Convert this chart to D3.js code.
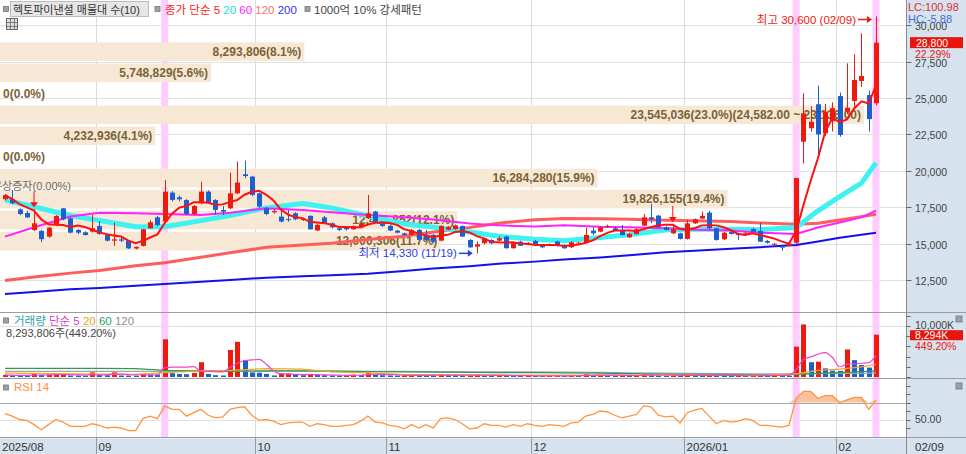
<!DOCTYPE html>
<html>
<head>
<meta charset="utf-8">
<script src="https://cdn.jsdelivr.net/npm/d3@7/dist/d3.min.js"></script>
<style>
  body { margin:0; background:#fff; }
  svg { display:block; font-family:"Liberation Sans","Noto Sans CJK KR",sans-serif; }
</style>
</head>
<body>
<div id="chart-area"></div>
<script>
// daily candles, 2025/08/12 ~ 2026/02/09
var dates = [
  "2025/08/12","2025/08/13","2025/08/14","2025/08/18","2025/08/19","2025/08/20","2025/08/21","2025/08/22","2025/08/25","2025/08/26",
  "2025/08/27","2025/08/28","2025/08/29","2025/09/01","2025/09/02","2025/09/03","2025/09/04","2025/09/05","2025/09/08","2025/09/09",
  "2025/09/10","2025/09/11","2025/09/12","2025/09/15","2025/09/16","2025/09/17","2025/09/18","2025/09/19","2025/09/22","2025/09/23",
  "2025/09/24","2025/09/25","2025/09/26","2025/09/29","2025/09/30","2025/10/01","2025/10/02","2025/10/10","2025/10/13","2025/10/14",
  "2025/10/15","2025/10/16","2025/10/17","2025/10/20","2025/10/21","2025/10/22","2025/10/23","2025/10/24","2025/10/27","2025/10/28",
  "2025/10/29","2025/10/30","2025/10/31","2025/11/03","2025/11/04","2025/11/05","2025/11/06","2025/11/07","2025/11/10","2025/11/11",
  "2025/11/12","2025/11/13","2025/11/14","2025/11/17","2025/11/18","2025/11/19","2025/11/20","2025/11/21","2025/11/24","2025/11/25",
  "2025/11/26","2025/11/27","2025/11/28","2025/12/01","2025/12/02","2025/12/03","2025/12/04","2025/12/05","2025/12/08","2025/12/09",
  "2025/12/10","2025/12/11","2025/12/12","2025/12/15","2025/12/16","2025/12/17","2025/12/18","2025/12/19","2025/12/22","2025/12/23",
  "2025/12/24","2025/12/26","2025/12/29","2025/12/30","2026/01/02","2026/01/05","2026/01/06","2026/01/07","2026/01/08","2026/01/09",
  "2026/01/12","2026/01/13","2026/01/14","2026/01/15","2026/01/16","2026/01/19","2026/01/20","2026/01/21","2026/01/22","2026/01/23",
  "2026/01/26","2026/01/27","2026/01/28","2026/01/29","2026/01/30","2026/02/02","2026/02/03","2026/02/04","2026/02/05","2026/02/06",
  "2026/02/09"
];

var open = [
  18050,18040,17350,17100,15930,15870,15480,16280,17420,16740,
  15935,15775,15820,16210,15590,15200,15290,15200,14660,14840,
  16050,16800,16510,18500,18180,17990,17030,17770,18570,17990,
  17310,17420,18450,19760,19600,18450,17420,17150,16850,16680,
  17080,16620,16900,15900,16800,16390,16050,16100,15980,16120,
  16740,17200,16390,16210,15890,15700,15590,15935,15590,15590,
  15200,15950,16000,16210,15250,14790,15020,15250,15200,15480,
  14680,15130,14900,15180,14840,14880,15135,14905,14745,15020,
  15065,15890,15820,16120,16050,15935,15430,15660,16230,16805,
  16920,16120,15705,15705,15320,16390,16715,17125,16050,15295,
  15790,15705,15600,16000,15870,15180,14930,14790,14850,15060,
  22000,22920,24570,22570,23400,25140,24060,24790,26170,25200,
  24640
];
var high = [
  18400,18680,17420,17250,17350,15950,16150,16950,17450,16800,
  16000,15850,16960,16550,15650,16440,15500,15250,14800,16000,
  16600,16900,19370,18600,18300,18050,17650,19250,18650,18050,
  17580,19870,20630,20700,19650,18500,17500,17400,17300,17300,
  17150,16750,16950,16350,16900,16450,16100,16150,16250,16400,
  18340,17250,16450,16280,15950,15750,16000,16000,15935,15650,
  16250,16200,16300,16250,15300,15150,15400,15300,15500,15550,
  15050,15200,15100,15250,14900,15000,15200,14950,15150,15120,
  16095,16120,16200,16300,16150,16280,15720,16050,17030,17720,
  16980,16180,16350,15750,16620,16720,17195,17250,16100,15800,
  15850,15750,15800,16100,16435,15250,15050,14850,15050,19500,
  25320,24430,25850,24600,24700,25370,27380,28000,29440,25520,
  30600
];
var low = [
  17950,17700,16950,16750,15850,15100,15400,16200,16600,15700,
  15650,15550,15750,15600,15150,14840,15100,14620,14600,14800,
  16000,16200,16400,17900,17900,16950,16950,17700,17750,16970,
  16970,17350,18400,19500,18250,17450,16950,17050,16450,16500,
  16600,16550,15950,15850,16350,16050,15850,15900,15950,16050,
  16700,16450,16150,15850,15700,15550,15550,15200,15200,15050,
  15150,15900,15950,15450,14700,14330,14950,14950,15150,14650,
  14650,14830,14880,14880,14700,14850,14800,14650,14700,14980,
  15020,15590,15780,16080,15850,15550,15380,15620,16200,16390,
  16080,15900,15650,15280,15280,16350,16680,16000,15200,15250,
  15620,15250,15550,15780,15100,15000,14900,14500,14800,14950,
  20510,22690,20860,22400,22700,22340,23900,24400,25750,22700,
  24500
];
var close = [
  18330,17770,17030,16800,16390,15300,16090,16900,16670,15750,
  15750,15590,16050,15660,15200,15290,15200,14670,14770,15980,
  16460,16280,18570,18000,18040,17030,17580,18570,17810,17310,
  17190,18450,19190,19640,18340,17540,17030,17240,16510,16620,
  16670,16700,15980,16280,16390,16120,15940,15980,16200,16350,
  17080,16500,16210,15890,15750,15590,15930,15250,15250,15130,
  16210,16150,16250,15480,14740,14950,15360,15020,15360,14680,
  15020,14850,15020,14905,14745,14975,14835,14675,15090,15065,
  15590,15705,16120,16210,15890,15590,15660,15980,16805,16665,
  16120,15935,15980,15320,16390,16665,16895,16050,15250,15750,
  15660,15590,15710,15820,15130,15060,14990,14750,15000,19500,
  23950,23370,22500,24060,24300,22460,24330,26240,26510,23550,
  28800
];
var volume = [
  400000,300000,280000,260000,700000,400000,450000,500000,600000,300000,
  280000,250000,900000,400000,350000,900000,300000,280000,260000,600000,
  500000,450000,7400000,750000,600000,550000,800000,2900000,600000,350000,
  300000,5300000,6900000,3300000,900000,850000,600000,300000,600000,650000,
  450000,350000,500000,400000,350000,300000,280000,300000,450000,400000,
  850000,450000,350000,300000,280000,300000,450000,350000,300000,280000,
  550000,400000,350000,300000,350000,400000,320000,280000,300000,280000,
  250000,220000,250000,220000,200000,220000,250000,220000,300000,250000,
  550000,350000,400000,320000,280000,300000,250000,300000,550000,500000,
  350000,250000,280000,250000,400000,350000,300000,350000,300000,280000,
  220000,250000,200000,220000,400000,250000,400000,300000,250000,5940000,
  10300000,2900000,3000000,1700000,1250000,1200000,5400000,3300000,2350000,1846350,
  8293806
];
var rsi = [
  57,54,50,49,44,38,44,50,47,42,
  42,42,45,43,40,41,40,37,37,51,
  54,51,66,62,62,54,58,62,55,52,
  53,62,64,65,55,49,50,48,44,46,
  47,47,42,45,44,42,42,43,44,48,
  54,47,46,43,42,39,44,40,44,40,
  51,52,50,45,39,40,45,43,43,41,
  44,42,45,43,42,44,43,42,46,47,
  54,56,60,59,55,52,54,56,66,65,
  55,53,54,46,58,61,63,54,45,49,
  47,48,51,49,43,43,42,41,43,75,
  83,83,75,78,78,70,73,76,76,62,
  73
];

// moving averages at these dates
var maDates = ["2025/08/12","2025/08/19","2025/08/26","2025/09/01","2025/09/08","2025/09/12","2025/09/19","2025/09/25",
  "2025/10/02","2025/10/16","2025/10/22","2025/10/29","2025/11/05","2025/11/11","2025/11/18","2025/11/24",
  "2025/12/01","2025/12/05","2025/12/12","2025/12/18","2025/12/26","2026/01/05","2026/01/12","2026/01/16",
  "2026/01/23","2026/01/28","2026/02/02","2026/02/05","2026/02/09"];
var ma20 = [18000,17530,16930,16580,16150,16150,16575,16930,17450,17750,17450,16900,16350,16130,15800,15500,
  15300,15200,15420,15600,15930,15980,15990,15950,16100,17250,18220,19150,20550];
var ma60 = [15480,16120,16860,17120,17080,17030,16965,17120,17420,17300,17150,16960,16800,16650,16380,16250,
  16180,16250,16150,16120,16050,15950,15900,15750,15660,16100,16450,16800,17260];
var ma120 = [12460,12700,12970,13150,13470,13690,14060,14370,14740,14910,15020,15280,15500,15800,16100,16400,
  16640,16730,16700,16670,16600,16570,16520,16420,16320,16400,16620,16850,17010];
var ma200 = [11540,11680,11870,11950,12100,12220,12380,12500,12660,12760,12830,12930,13120,13280,13450,13620,
  13760,13900,14050,14200,14400,14500,14650,14750,14900,15150,15400,15600,15750];
var volMa20 = [750000,700000,600000,550000,500000,850000,1200000,1300000,1650000,1550000,1000000,800000,450000,450000,400000,400000,
  380000,360000,380000,380000,360000,350000,330000,330000,600000,1300000,1550000,2000000,2450000];
var volMa60 = [1700000,1700000,1700000,1700000,1650000,1300000,1200000,1100000,1200000,1200000,1150000,1050000,1000000,950000,900000,850000,
  850000,800000,750000,650000,550000,500000,450000,420000,500000,700000,850000,1050000,1200000];
var volMa120 = [1100000,1100000,1100000,1100000,1100000,1100000,1100000,1100000,1150000,1150000,1150000,1100000,1100000,1050000,1000000,1000000,
  1000000,950000,900000,800000,750000,700000,650000,600000,600000,650000,700000,720000,750000];

// supply zones (매물대), bottom to top
var bandLow  = [14460,15906,17352,18798,20244,21690,23136,24582,26028,27474];
var bandHigh = [15906,17352,18798,20244,21690,23136,24582,26028,27474,28920];
var bandVol  = [12000306,12461852,19826155,16284280,0,4232936,23545036,0,5748829,8293806];
var bandPct  = [11.7,12.1,19.4,15.9,0.0,4.1,23.0,0.0,5.6,8.1];

var strongDays = ["2025/09/12","2026/01/23","2026/02/09"];   // 1000억 10% 강세패턴
var signalDays = ["2025/08/19","2025/12/29"];
var priceTicks = [12500,15000,17500,20000,22500,25000,27500,30000];
var monthKeys   = ["2025/08","2025/09","2025/10","2025/11","2025/12","2026/01","2026/02"];
var monthLabels = ["2025/08","09","10","11","12","2026/01","02"];

var W = 966, H = 454, plotR = 906.5;
var fmt = d3.format(",");

var svg = d3.select("#chart-area").append("svg")
    .attr("width", W).attr("height", H);

var x = d3.scalePoint().domain(dates).range([5, 876]);
var step = x.step();
var yP = d3.scaleLinear().domain([10300, 31730]).range([312, 0]);
var yV = d3.scaleLinear().domain([0, 12500000]).range([377, 313.25]);
var yR = d3.scaleLinear().domain([30, 70]).range([436.5, 402.5]);

var idx = dates.map(function(d, i){ return i; });

// backgrounds
svg.append("rect").attr("width", W).attr("height", H).attr("fill", "#fff");
svg.append("rect").attr("x", plotR).attr("y", 0).attr("width", W - plotR).attr("height", H).attr("fill", "#d6e2ee");
svg.append("rect").attr("x", 0).attr("y", 438.5).attr("width", plotR).attr("height", H - 438.5).attr("fill", "#d6e2ee");

// strong pattern bands
svg.selectAll(".strong").data(strongDays).enter().append("rect")
    .attr("x", function(d){ return x(d) - 3.5; })
    .attr("y", 0).attr("width", 7).attr("height", 438)
    .attr("fill", "#ffccff");

// horizontal grid
svg.selectAll(".hgrid").data(priceTicks).enter().append("line")
    .attr("x1", 0).attr("x2", plotR)
    .attr("y1", function(d){ return Math.round(yP(d)) + 0.5; })
    .attr("y2", function(d){ return Math.round(yP(d)) + 0.5; })
    .attr("stroke", "#e2e2e2");
svg.append("line").attr("x1", 0).attr("x2", plotR).attr("y1", Math.round(yV(10000000)) + 0.5).attr("y2", Math.round(yV(10000000)) + 0.5).attr("stroke", "#dedede");
svg.append("line").attr("x1", 0).attr("x2", plotR).attr("y1", Math.round(yR(50)) + 0.5).attr("y2", Math.round(yR(50)) + 0.5).attr("stroke", "#e2e2e2");
svg.append("line").attr("x1", 0).attr("x2", plotR).attr("y1", Math.round(yR(70)) + 0.5).attr("y2", Math.round(yR(70)) + 0.5).attr("stroke", "#a8a8a8");

// month grid + bottom axis
var months = monthKeys.map(function(k, i){
    var first = dates.find(function(d){ return d.indexOf(k) === 0; });
    var gx = dates.indexOf(first) === 0 ? 0 : Math.round(x(first) - step / 2) + 0.5;
    return { label: monthLabels[i], gx: gx };
});
months.forEach(function(m){
    if (m.gx > 0) {
        svg.append("line").attr("x1", m.gx).attr("x2", m.gx).attr("y1", 0).attr("y2", 438).attr("stroke", "#dcdcdc");
        svg.append("line").attr("x1", m.gx).attr("x2", m.gx).attr("y1", 438).attr("y2", H).attr("stroke", "#8f9aa6");
    }
    svg.append("text").attr("x", m.gx + 2).attr("y", 451)
        .attr("font-size", "11.5px").attr("fill", "#333").text(m.label);
});
svg.append("text").attr("x", 915).attr("y", 451).attr("font-size", "11.5px").attr("fill", "#333")
    .text(dates[dates.length - 1].slice(5));

// panel borders
[312.5, 378.5, 437.5].forEach(function(yy){
    svg.append("line").attr("x1", 0).attr("x2", W).attr("y1", yy).attr("y2", yy).attr("stroke", "#9c9c9c");
});
svg.append("line").attr("x1", plotR).attr("x2", plotR).attr("y1", 0).attr("y2", H).attr("stroke", "#8a8a8a");

// supply zone bars
var bw = d3.scaleLinear().domain([0, d3.max(bandVol)]).range([0, 864]);
var maxBand = bandVol.indexOf(d3.max(bandVol));
var bands = svg.append("g");
bandVol.forEach(function(v, k){
    var y1 = yP(bandHigh[k]), y2 = yP(bandLow[k]);
    if (v > 0) {
        bands.append("rect").attr("x", 0).attr("y", y1 + 1.5).attr("width", bw(v)).attr("height", y2 - y1 - 2.5)
            .attr("fill", "#f6e8d5");
    }
    var label = fmt(v) + "(" + bandPct[k].toFixed(1) + "%)";
    if (k === maxBand) label += "(" + d3.format(",.2f")(bandHigh[k]) + " ~ " + d3.format(",.2f")(bandLow[k]) + ")";
    bands.append("text")
        .attr("x", v > 0 ? bw(v) - 3 : 3)
        .attr("y", (y1 + y2) / 2 + 4.5)
        .attr("text-anchor", v > 0 ? "end" : "start")
        .attr("font-size", "12px").attr("font-weight", "bold").attr("fill", "#7b6236")
        .text(label);
});
svg.append("text").attr("x", -8).attr("y", 190).attr("font-size", "11px").attr("fill", "#6a6a6a").text("유상증자(0.00%)");

// moving average lines
var maLine = d3.line().x(function(d){ return x(d[0]); }).y(function(d){ return yP(d[1]); });
function drawMa(vals, color, w){
    svg.append("path").datum(maDates.map(function(d, i){ return [d, vals[i]]; }))
        .attr("d", maLine).attr("fill", "none").attr("stroke", color).attr("stroke-width", w)
        .attr("stroke-linejoin", "round");
}
drawMa(ma200, "#1010f0", 2);
drawMa(ma120, "#ff5c5c", 3);
drawMa(ma20, "#3ef2f2", 5);
drawMa(ma60, "#ff22ff", 2);

// candles
var up = function(i){ return close[i] >= open[i]; };
var candle = svg.append("g").selectAll("g").data(idx).enter().append("g");
candle.append("line")
    .attr("x1", function(i){ return Math.round(x(dates[i])) + 0.5; })
    .attr("x2", function(i){ return Math.round(x(dates[i])) + 0.5; })
    .attr("y1", function(i){ return yP(high[i]); })
    .attr("y2", function(i){ return yP(low[i]); })
    .attr("stroke", function(i){ return up(i) ? "#ee1a10" : "#1e5fd0"; });
candle.append("rect")
    .attr("x", function(i){ return Math.round(x(dates[i])) - 2; })
    .attr("width", 5)
    .attr("y", function(i){ return yP(Math.max(open[i], close[i])); })
    .attr("height", function(i){ return Math.max(1, Math.abs(yP(open[i]) - yP(close[i]))); })
    .attr("fill", function(i){ return up(i) ? "#ee1a10" : "#1e5fd0"; });

// 5 day MA of close
var ma5 = idx.map(function(i){ return d3.mean(close.slice(Math.max(0, i - 4), i + 1)); });
svg.append("path").datum(idx)
    .attr("d", d3.line().x(function(i){ return x(dates[i]); }).y(function(i){ return yP(ma5[i]); }))
    .attr("fill", "none").attr("stroke", "#ff1010").attr("stroke-width", 2);

// signal arrows
signalDays.forEach(function(d){
    var i = dates.indexOf(d), cx = x(d), ty = yP(high[i]) - 2;
    svg.append("line").attr("x1", cx).attr("x2", cx).attr("y1", ty - 16).attr("y2", ty - 4).attr("stroke", "#ff1010");
    svg.append("path").attr("d", "M" + (cx - 4) + "," + (ty - 5) + "L" + (cx + 4) + "," + (ty - 5) + "L" + cx + "," + ty + "Z")
        .attr("fill", "#ff1010");
});

// high / low notes
var iHi = high.indexOf(d3.max(high)), iLo = low.indexOf(d3.min(low));
var hx = x(dates[iHi]) - 4, hy = 19.5;
svg.append("text").attr("x", hx - 16).attr("y", hy + 4).attr("text-anchor", "end")
    .attr("font-size", "11.5px").attr("fill", "#ee1a10")
    .text("최고 " + fmt(high[iHi]) + " (" + dates[iHi].slice(5) + ")");
svg.append("line").attr("x1", hx - 14).attr("x2", hx - 4).attr("y1", hy).attr("y2", hy).attr("stroke", "#ee1a10").attr("stroke-width", 1.5);
svg.append("path").attr("d", "M" + (hx - 5) + "," + (hy - 3.5) + "L" + hx + "," + hy + "L" + (hx - 5) + "," + (hy + 3.5) + "Z").attr("fill", "#ee1a10");

var lx = x(dates[iLo]) - 4, ly = yP(low[iLo]);
svg.append("text").attr("x", lx - 16).attr("y", ly + 4).attr("text-anchor", "end")
    .attr("font-size", "11.5px").attr("fill", "#2f3fe0")
    .text("최저 " + fmt(low[iLo]) + " (" + dates[iLo].slice(5) + ")");
svg.append("line").attr("x1", lx - 14).attr("x2", lx - 4).attr("y1", ly).attr("y2", ly).attr("stroke", "#2f3fe0").attr("stroke-width", 1.5);
svg.append("path").attr("d", "M" + (lx - 5) + "," + (ly - 3.5) + "L" + lx + "," + ly + "L" + (lx - 5) + "," + (ly + 3.5) + "Z").attr("fill", "#2f3fe0");

// volume bars
svg.append("g").selectAll("rect").data(idx).enter().append("rect")
    .attr("x", function(i){ return Math.round(x(dates[i])) - 2; })
    .attr("width", 5)
    .attr("y", function(i){ return yV(volume[i]); })
    .attr("height", function(i){ return yV(0) - yV(volume[i]); })
    .attr("fill", function(i){ return (i === 0 || volume[i] >= volume[i - 1]) ? "#ee1a10" : "#1e5fd0"; });

var vLine = d3.line().x(function(d){ return x(d[0]); }).y(function(d){ return yV(d[1]); });
function drawVolMa(vals, color){
    svg.append("path").datum(maDates.map(function(d, i){ return [d, vals[i]]; }))
        .attr("d", vLine).attr("fill", "none").attr("stroke", color).attr("stroke-width", 1.2);
}
drawVolMa(volMa120, "#a4a4a4");
drawVolMa(volMa60, "#2e9a55");
drawVolMa(volMa20, "#f0a828");
var vma5 = idx.map(function(i){ return d3.mean(volume.slice(Math.max(0, i - 4), i + 1)); });
svg.append("path").datum(idx)
    .attr("d", d3.line().curve(d3.curveMonotoneX).x(function(i){ return x(dates[i]); }).y(function(i){ return yV(vma5[i]); }))
    .attr("fill", "none").attr("stroke", "#ee44cc").attr("stroke-width", 1.2);

// RSI
svg.append("path").datum(idx)
    .attr("d", d3.area().x(function(i){ return x(dates[i]); })
        .y0(yR(70)).y1(function(i){ return yR(Math.max(70, rsi[i])); }))
    .attr("fill", "#f6b88c").attr("opacity", 0.85);
svg.append("path").datum(idx)
    .attr("d", d3.line().x(function(i){ return x(dates[i]); }).y(function(i){ return yR(rsi[i]); }))
    .attr("fill", "none").attr("stroke", "#ff9440").attr("stroke-width", 1.3);

// right axis
var axisG = svg.append("g").attr("font-size", "10.5px").attr("fill", "#444");
priceTicks.forEach(function(p){
    var yy = Math.round(yP(p)) + 0.5;
    axisG.append("line").attr("x1", plotR).attr("x2", plotR + 5).attr("y1", yy).attr("y2", yy).attr("stroke", "#666");
    axisG.append("text").attr("x", 915).attr("y", yy + 4).text(fmt(p));
});
d3.range(0, 12000001, 2000000).forEach(function(v){
    var yy = Math.round(yV(v)) + 0.5;
    axisG.append("line").attr("x1", plotR).attr("x2", plotR + 4).attr("y1", yy).attr("y2", yy).attr("stroke", "#666");
});
axisG.append("text").attr("x", 915).attr("y", yV(10000000) + 3).text("10,000K");
d3.range(40, 100, 10).forEach(function(r){
    var yy = Math.round(yR(r)) + 0.5;
    axisG.append("line").attr("x1", plotR).attr("x2", plotR + 4).attr("y1", yy).attr("y2", yy).attr("stroke", "#666");
});
axisG.append("text").attr("x", 915).attr("y", yR(50) + 3.5).text("50.00");

// current price tag
var last = close.length - 1;
var chg = (close[last] / close[last - 1] - 1) * 100;
svg.append("rect").attr("x", 910).attr("y", yP(close[last]) - 5.5).attr("width", 53).attr("height", 11).attr("fill", "#e8150c");
svg.append("text").attr("x", 916).attr("y", yP(close[last]) + 4).attr("font-size", "10.5px").attr("fill", "#fff").text(fmt(close[last]));
svg.append("text").attr("x", 915).attr("y", yP(close[last]) + 15).attr("font-size", "10.5px").attr("fill", "#e8150c").text(chg.toFixed(2) + "%");
svg.append("text").attr("x", 908).attr("y", 11).attr("font-size", "11px").attr("fill", "#e03030").text("LC:100.98");
svg.append("text").attr("x", 908).attr("y", 23).attr("font-size", "11px").attr("fill", "#3f6fd0").text("HC:-5.88");

// current volume tag
var vr = volume[last] / volume[last - 1] * 100;
svg.append("rect").attr("x", 910).attr("y", yV(volume[last]) - 4.5).attr("width", 53).attr("height", 10).attr("fill", "#e8150c");
svg.append("text").attr("x", 915).attr("y", yV(volume[last]) + 4).attr("font-size", "10.5px").attr("fill", "#fff").text(fmt(Math.round(volume[last] / 1000)) + "K");
svg.append("text").attr("x", 915).attr("y", yV(volume[last]) + 15).attr("font-size", "10.5px").attr("fill", "#e8150c").text(vr.toFixed(2) + "%");

// small panel icons
function icon(ix, iy, s){
    svg.append("rect").attr("x", ix).attr("y", iy).attr("width", s).attr("height", s).attr("fill", "#a0a0a0").attr("stroke", "#777").attr("stroke-width", 0.8);
}
icon(956, 316, 6);
icon(956, 383, 6);

// legends
icon(3.5, 6.5, 5);
svg.append("rect").attr("x", 10.5).attr("y", 1.5).attr("width", 138).attr("height", 15).attr("fill", "#e6e6e6").attr("stroke", "#bcbcbc");
svg.append("text").attr("x", 13).attr("y", 13.5).attr("font-size", "11px").attr("fill", "#333").text("헥토파이낸셜 매물대 수(10)");
icon(155, 6.5, 5);
var lg = svg.append("text").attr("x", 165).attr("y", 13.5).attr("font-size", "11.5px");
lg.append("tspan").attr("fill", "#ff2020").text("종가 단순 5 ");
lg.append("tspan").attr("fill", "#22dddd").text(" 20 ");
lg.append("tspan").attr("fill", "#ff22ff").text(" 60 ");
lg.append("tspan").attr("fill", "#ff6e6e").text(" 120 ");
lg.append("tspan").attr("fill", "#3030ff").text(" 200");
icon(305, 6.5, 5);
svg.append("text").attr("x", 314).attr("y", 13.5).attr("font-size", "11.5px").attr("fill", "#444").text("1000억 10% 강세패턴");
svg.append("rect").attr("x", 6.5).attr("y", 18.5).attr("width", 11).attr("height", 11).attr("fill", "#ddd").attr("stroke", "#666");
[10.5, 14.5].forEach(function(g){
    svg.append("line").attr("x1", g).attr("x2", g).attr("y1", 19).attr("y2", 29).attr("stroke", "#666").attr("stroke-width", 0.8);
    svg.append("line").attr("x1", 7).attr("x2", 17).attr("y1", g + 12).attr("y2", g + 12).attr("stroke", "#666").attr("stroke-width", 0.8);
});

icon(3.5, 318, 5);
var vl = svg.append("text").attr("x", 14).attr("y", 325).attr("font-size", "11.5px");
vl.append("tspan").attr("fill", "#2ea0a8").text("거래량 ");
vl.append("tspan").attr("fill", "#e040c8").text(" 단순 5 ");
vl.append("tspan").attr("fill", "#f0a020").text(" 20 ");
vl.append("tspan").attr("fill", "#30a060").text(" 60 ");
vl.append("tspan").attr("fill", "#909090").text(" 120");
svg.append("text").attr("x", 6).attr("y", 337).attr("font-size", "11px").attr("fill", "#444")
    .text(fmt(volume[last]) + "주(" + vr.toFixed(2) + "%)");

icon(3.5, 385, 5);
svg.append("text").attr("x", 14).attr("y", 391).attr("font-size", "11.5px").attr("fill", "#ff8c3a").text("RSI 14");
</script>
</body>
</html>
